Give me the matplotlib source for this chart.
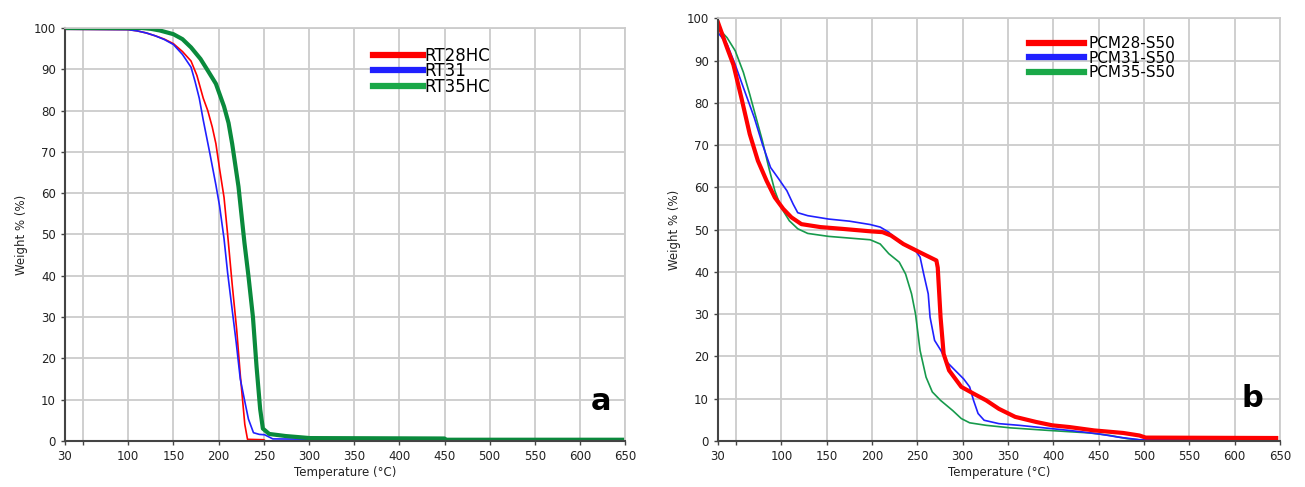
import numpy as np
import matplotlib.pyplot as plt

# LEFT PANEL (a) DATA
t_rt28 = [30, 100, 110, 120, 130, 140, 150, 160, 169.5, 176, 183, 188, 193, 197, 201, 206, 210, 215, 220, 224, 229, 232, 250, 252]
w_rt28 = [99.7, 99.6, 99.3, 98.8, 98.1, 97.3, 96.2, 94.3, 92, 88.5, 83, 80, 76, 72, 66, 59, 50, 38, 27, 16, 4, 0.4, 0.3, 0.0]

t_rt31 = [30, 100, 110, 120, 130, 140, 150, 160, 169.5, 174, 178.6, 183, 190, 197, 201, 206, 210, 215, 219.5, 224, 228.6, 233, 238.6, 245, 251, 260, 450]
w_rt31 = [99.7, 99.6, 99.3, 98.8, 98.1, 97.2, 96, 93.6, 90.5, 87, 83, 77.7, 70, 62, 57, 49, 40.7, 31.8, 23.8, 15, 10, 5.3, 2, 1.6, 1.5, 0.5, 0.2]

t_rt35 = [30, 115, 125, 135, 150, 160, 169.5, 180, 188, 197, 206, 211, 215, 222, 228.6, 233, 238, 242, 246, 249, 256, 274, 301, 450, 452, 650]
w_rt35 = [100, 100, 99.8, 99.4, 98.5, 97.3, 95.3, 92.5, 89.7, 86.5, 81, 77, 72, 61.6, 48, 40, 30, 18, 7.7, 3, 1.7, 1.2, 0.7, 0.6, 0.3, 0.3]

# RIGHT PANEL (b) DATA
t_pcm28 = [30, 40, 47, 56, 65, 74, 83.5, 92.7, 102, 111, 122, 143, 166, 198, 211.6, 221, 234.5, 253, 271,
           272.5, 275.6, 279, 285, 298.5, 312, 326, 340, 358, 381, 399, 417.5, 445, 477, 495, 502, 646]
w_pcm28 = [99, 93, 89, 81, 72.6, 66.3, 61.6, 57.6, 54.9, 52.9, 51.3, 50.6, 50.2, 49.6, 49.4, 48.6, 46.6, 44.6, 42.7,
           41, 29.3, 20.6, 16.7, 12.8, 11.2, 9.6, 7.6, 5.7, 4.5, 3.7, 3.3, 2.5, 1.9, 1.3, 0.8, 0.7]

t_pcm31 = [30, 40, 49, 58, 70, 79, 88, 97, 106, 113, 118, 129, 152, 175, 198, 209, 218.5, 230, 248, 253, 257,
           262, 264, 269, 276, 282.5, 291.7, 301, 307.7, 312, 317, 323.7, 340, 362.6, 399, 417.5, 449.5, 472, 495, 646]
w_pcm31 = [96.6, 93.9, 89, 83.6, 76.5, 70.2, 64.7, 62, 59.2, 56, 54, 53.3, 52.5, 52, 51.2, 50.6, 49.4, 47, 45, 43.5, 39.5,
           34.8, 29.3, 23.8, 21.4, 18.7, 16.7, 14.7, 12.8, 9.6, 6.5, 4.9, 4.1, 3.7, 2.9, 2.5, 1.7, 0.9, 0.3, 0.15]

t_pcm35 = [33, 40, 49, 58, 65, 72, 79, 86, 92.7, 99.5, 108.7, 118, 129, 152, 175, 198, 209, 218.5, 230, 237, 243.6,
           248, 253, 259.6, 266.5, 275.6, 289, 298.5, 307.7, 326, 353, 394.6, 440, 463, 481.5, 500, 646]
w_pcm35 = [97, 95.4, 92.3, 87.2, 82, 76.5, 71, 64.7, 59.2, 55.3, 52.1, 50.2, 49.1, 48.4, 48, 47.6, 46.6, 44.3, 42.3, 39.5, 34.8,
           30, 21.4, 15.1, 11.6, 9.6, 7.2, 5.3, 4.3, 3.7, 3.1, 2.5, 1.9, 1.3, 0.55, 0.15, 0.1]

# AXIS TICKS
xticks = [30, 50] + list(range(100, 651, 50))
xlabels = ["30", ""] + [str(v) for v in range(100, 651, 50)]
yticks = list(range(0, 101, 10))

RED = "#ff0000"
BLUE = "#2020ff"
GREEN = "#0a8a3c"

fig = plt.figure(figsize=(13.05, 4.87), dpi=100)
axa = fig.add_axes([0.0498, 0.0945, 0.4293, 0.848])
axb = fig.add_axes([0.5502, 0.0945, 0.4305, 0.868])


def style_axis(ax):
    ax.set_xlim(30, 650)
    ax.set_ylim(0, 100)
    ax.set_xticks(xticks)
    ax.set_xticklabels(xlabels)
    ax.set_yticks(yticks)
    ax.grid(True, color="#cccccc", linewidth=1.3)
    ax.set_axisbelow(True)
    for s in ["top", "right"]:
        ax.spines[s].set_color("#cccccc")
        ax.spines[s].set_linewidth(1.3)
    for s in ["left", "bottom"]:
        ax.spines[s].set_color("#444444")
        ax.spines[s].set_linewidth(1.5)
    ax.tick_params(axis="both", labelsize=8.5, length=3, width=1, color="#444444", labelcolor="#222222")
    ax.set_xlabel("Temperature (°C)", fontsize=8.5, color="#222222", labelpad=2)
    ax.set_ylabel("Weight % (%)", fontsize=8.5, color="#222222", labelpad=4)


# PANEL a
style_axis(axa)
axa.plot(t_rt28, w_rt28, color=RED, lw=1.2, label="RT28HC")
axa.plot(t_rt31, w_rt31, color=BLUE, lw=1.2, label="RT31")
axa.plot(t_rt35, w_rt35, color=GREEN, lw=3.0, label="RT35HC")
leg = axa.legend(loc="upper left", bbox_to_anchor=(0.535, 0.975), frameon=False, fontsize=12,
                 handlelength=3.0, handletextpad=0.1, labelspacing=-0.15, borderpad=0)
for h, c in zip(leg.get_lines(), [RED, BLUE, "#1aa848"]):
    h.set_linewidth(4.5)
    h.set_color(c)
axa.text(0.975, 0.095, "a", transform=axa.transAxes, fontsize=22, fontweight="bold",
         ha="right", va="center")

# PANEL b
style_axis(axb)
axb.plot(t_pcm35, w_pcm35, color="#179a4c", lw=1.2, label="PCM35-S50")
axb.plot(t_pcm31, w_pcm31, color=BLUE, lw=1.2, label="PCM31-S50")
axb.plot(t_pcm28, w_pcm28, color=RED, lw=3.0, label="PCM28-S50")
handles, labels = axb.get_legend_handles_labels()
leg = axb.legend(handles[::-1], labels[::-1], loc="upper left", bbox_to_anchor=(0.54, 0.975), frameon=False,
                 fontsize=11, handlelength=3.6, handletextpad=0.3, labelspacing=-0.05, borderpad=0)
for h, c in zip(leg.get_lines(), [RED, BLUE, "#1aa848"]):
    h.set_linewidth(4.5)
    h.set_color(c)
axb.text(0.97, 0.1, "b", transform=axb.transAxes, fontsize=22, fontweight="bold",
         ha="right", va="center")

plt.savefig("out.png", dpi=100)
